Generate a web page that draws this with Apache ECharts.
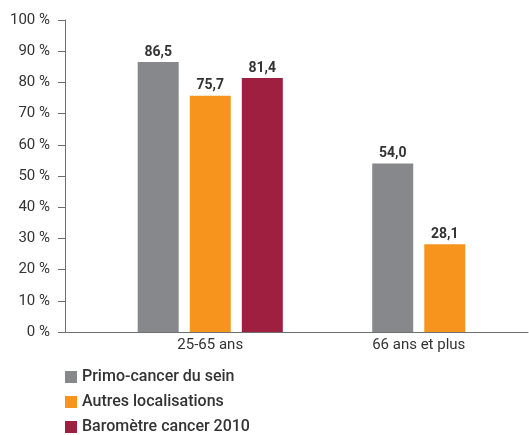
<!DOCTYPE html>
<html>
<head>
<meta charset="utf-8">
<script src="https://cdn.jsdelivr.net/npm/echarts@6/dist/echarts.min.js"></script>
<style>html,body{margin:0;padding:0;background:#fff}#c{width:529px;height:435px}</style>
</head>
<body>
<div id="c"></div>
<script>
var categories = ['25-65 ans', '66 ans et plus'];
var seriesNames = ['Primo-cancer du sein', 'Autres localisations', 'Baromètre cancer 2010'];
var primo = [86.5, 54.0];
var autres = [75.7, 28.1];
var barometre = [81.4, null];
var yTicks = [0, 10, 20, 30, 40, 50, 60, 70, 80, 90, 100];
var colors = ['#87888c', '#f7941d', '#9e1f3f'];

var allValues = [primo, autres, barometre];
var font = 'Roboto, "Noto Sans", sans-serif';

function fmt(p) { return p.value.toFixed(1).replace('.', ','); }

var series = [];
// one bar group per category so that each group is centred on its own
categories.forEach(function (cat, ci) {
  allValues.forEach(function (vals, si) {
    if (vals[ci] == null) return;
    var data = categories.map(function (c, k) { return k === ci ? vals[k] : '-'; });
    series.push({
      name: seriesNames[si],
      type: 'bar',
      xAxisIndex: ci + 1,
      yAxisIndex: 1,
      data: data,
      barWidth: 41,
      barGap: '27%',
      itemStyle: { color: colors[si] },
      label: {
        show: true, position: 'top', distance: 3,
        formatter: fmt, color: '#333', fontSize: 14, fontWeight: 'bold', fontFamily: font
      }
    });
  });
});

var chart = echarts.init(document.getElementById('c'), null, { renderer: 'canvas' });
chart.setOption({
  animation: false,
  color: colors,
  grid: [
    { left: 65, right: 1, top: 20, bottom: 103 },
    { left: 106, right: 6, top: 20, bottom: 103 }
  ],
  xAxis: [
    { type: 'category', gridIndex: 0, data: categories,
      axisLine: { show: true, lineStyle: { color: '#6d6e71', width: 1 } },
      axisTick: { show: false }, axisLabel: { show: false } },
    { type: 'category', gridIndex: 1, data: categories,
      axisLine: { show: false }, axisTick: { show: false },
      axisLabel: { color: '#333', fontSize: 15, fontFamily: font, margin: 6 } },
    { type: 'category', gridIndex: 1, data: categories, show: false }
  ],
  yAxis: [
    { type: 'value', gridIndex: 0, min: yTicks[0], max: yTicks[yTicks.length - 1], interval: 10,
      axisLine: { show: true, lineStyle: { color: '#6d6e71', width: 1 } },
      axisTick: { show: true, length: 7, lineStyle: { color: '#6d6e71' } },
      splitLine: { show: false },
      axisLabel: { formatter: '{value} %', color: '#333', fontSize: 15, fontFamily: font, margin: 15 } },
    { type: 'value', gridIndex: 1, min: yTicks[0], max: yTicks[yTicks.length - 1], show: false }
  ],
  legend: {
    orient: 'vertical', left: 65, top: 369, height: 120, padding: 0,
    icon: 'rect', itemWidth: 12, itemHeight: 12, itemGap: 9,
    data: seriesNames,
    textStyle: { color: '#333', fontSize: 16, fontWeight: 500, fontFamily: font }
  },
  series: series
});
</script>
</body>
</html>
